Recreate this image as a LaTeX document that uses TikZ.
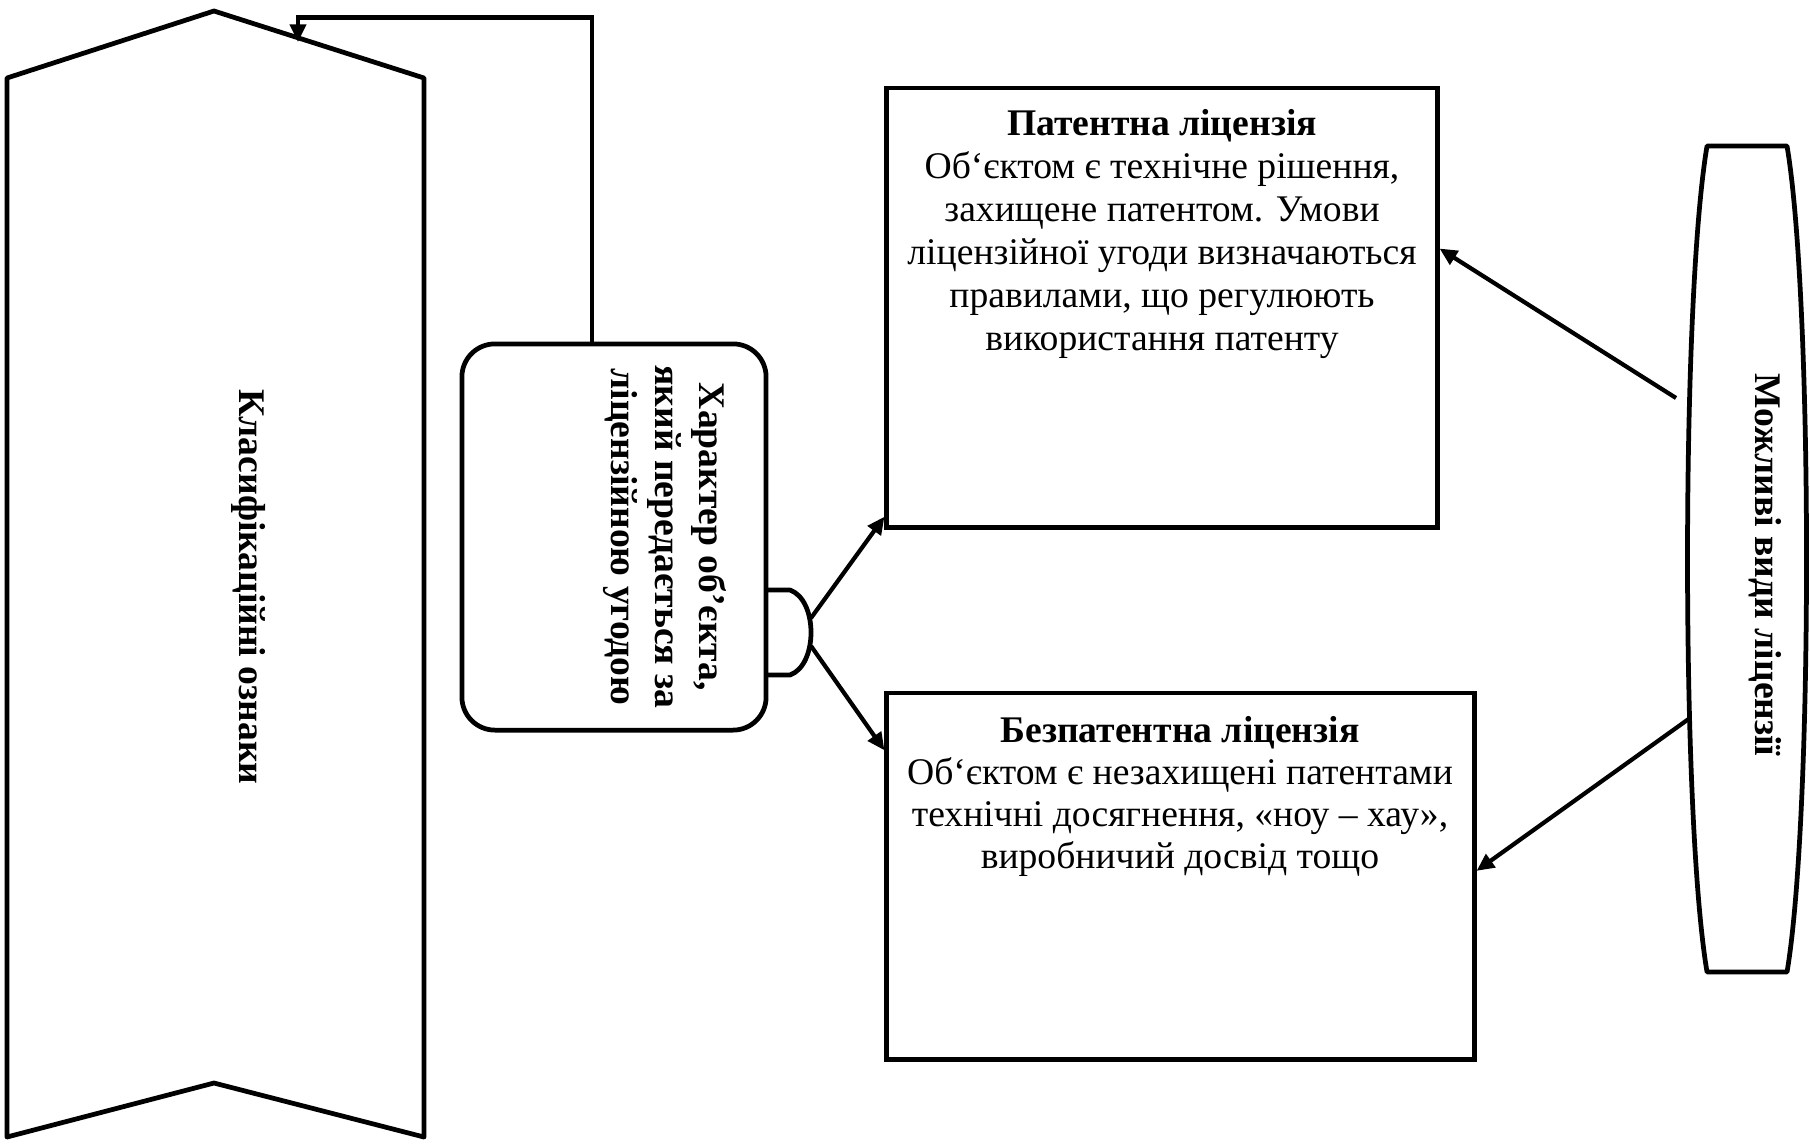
\documentclass[tikz,border=0pt]{standalone}
\usepackage{fontspec}
\setmainfont{Liberation Serif}
\usetikzlibrary{arrows.meta}

\tikzset{
  line/.style={line width=1.35pt, line join=round},
  arr/.style={line width=1.2pt, -{Triangle[length=5pt,width=4.5pt]}},
  box/.style={draw, line width=1.35pt, inner sep=0pt},
  txt/.style={inner sep=0pt, align=center, font=\fontsize{10.7}{12.2}\selectfont},
  vtxt/.style={inner sep=0pt, align=center, rotate=-90, font=\bfseries\fontsize{10.7}{12.5}\selectfont}
}

\begin{document}
\begin{tikzpicture}[x=0.01cm, y=-0.01cm]
    \useasboundingbox (0,0) rectangle (1810,1145);

    % Стрічка зліва
    \draw[line] (7,78) -- (214,11) -- (424,78) -- (424,1137) -- (214,1083) -- (7,1137) -- cycle;
    \coordinate (bantip) at (298,42);
    \node[vtxt] (banner) at (249,587) {Класифікаційні ознаки};

    % Блок з характером об'єкта
    \node[box, rounded corners=0.33cm, minimum width=3.04cm, minimum height=3.86cm] (kind) at (614,537) {};
    \node[vtxt] (kindtxt) at (665,537) {Характер об’єкта,\\який передається за\\ліцензійною угодою};
    \draw[line] (766,590) -- (790,590) .. controls (818,600) and (818,665) .. (790,675) -- (766,675);
    \coordinate (bumpup) at (811,618);
    \coordinate (bumpdn) at (811,646);

    % Види ліцензій
    \node[box, minimum width=5.5cm, minimum height=4.39cm] (patent) at (1162,307.5) {};
    \node[txt, anchor=north] (patenttxt) at (1162,109) {\textbf{Патентна ліцензія}\\Об‘єктом є технічне рішення,\\захищене патентом. Умови\\ліцензійної угоди визначаються\\правилами, що регулюють\\використання патенту};
    \node[box, minimum width=5.87cm, minimum height=3.66cm] (bezpat) at (1180.5,876) {};
    \node[txt, anchor=north, font=\fontsize{10.7}{11.9}\selectfont] (bezpattxt) at (1180,716) {\textbf{Безпатентна ліцензія}\\Об‘єктом є незахищені патентами\\технічні досягнення, «ноу – хау»,\\виробничий досвід тощо};

    % Бочка справа
    \draw[line] (1707,146) -- (1787,146) .. controls (1813,300) and (1813,818) .. (1787,972) -- (1707,972) .. controls (1681,818) and (1681,300) .. cycle;
    \node[vtxt] (types) at (1765,565) {Можливі види ліцензії};
    \coordinate (typesup) at (1676,398);
    \coordinate (typesdn) at (1690,718);

    % Стрілки
    \draw[arr] ([xshift=-0.22cm]kind.north) -- ++(0,-324) -| (bantip);
    \draw[arr] (bumpup) -- (patent.217);
    \draw[arr] (bumpdn) -- (bezpat.157);
    \draw[arr] (typesup) -- (patent.12);
    \draw[arr] (typesdn) -- (bezpat.1);
\end{tikzpicture}
\end{document}
